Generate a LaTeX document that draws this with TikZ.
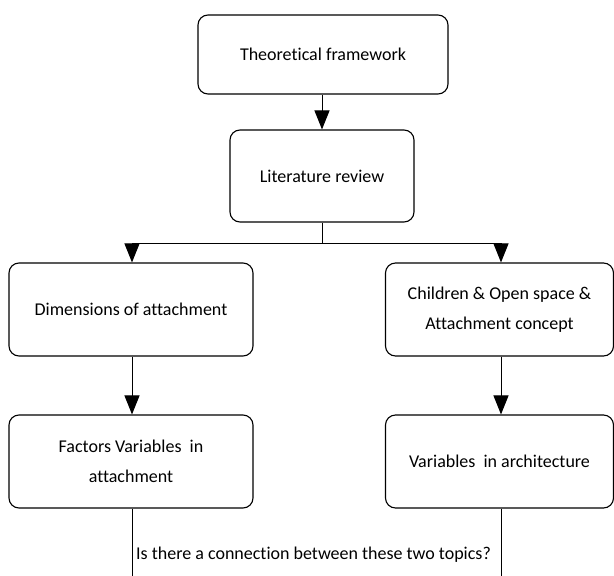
\documentclass[tikz,border=0pt]{standalone}
\usepackage{fontspec}
\setmainfont[Ligatures=CommonOff]{Carlito}
\usetikzlibrary{arrows.meta}
\begin{document}
\begin{tikzpicture}[x=1pt,y=-1pt,
  box/.style={draw, line width=1.1pt, rounded corners=10pt, align=center,
    inner sep=0pt, font=\fontsize{18}{30}\selectfont},
  arr/.style={line width=1pt, -{Triangle[width=15pt,length=19pt]}},
  ln/.style={line width=1pt}]
\useasboundingbox (0,0) rectangle (614,576);
\node[box, minimum width=250pt, minimum height=79pt] (tf) at (323,54.5) {Theoretical framework};
\node[box, minimum width=184pt, minimum height=92pt] (lr) at (322,176) {Literature review};
\node[box, minimum width=244pt, minimum height=93pt] (da) at (131,309.5) {Dimensions of attachment};
\node[box, minimum width=244pt, minimum height=93pt] (fv) at (131,461.5) {Factors Variables\ \ in\\attachment};
\node[box, minimum width=228pt, minimum height=93pt] (co) at (499.5,309.5) {Children \& Open space \&\\Attachment concept};
\node[box, minimum width=228pt, minimum height=93pt] (va) at (499.5,461.5) {Variables\ \ in architecture};
\coordinate (split) at (322,243);
\coordinate (lend) at (132,576);
\coordinate (rend) at (501,576);
\draw[arr] (tf.south -| lr.north) -- (lr.north);
\draw[ln] (lr.south) -- (split);
\draw[arr] (split) -| (da.north -| 132,0);
\draw[arr] (split) -| (co.north -| 501,0);
\draw[arr] (da.south -| 132,0) -- (fv.north -| 132,0);
\draw[arr] (co.south -| 501,0) -- (va.north -| 501,0);
\draw[ln] (fv.south -| 132,0) -- (lend);
\draw[ln] (va.south -| 501,0) -- (rend);
\node[anchor=west, inner sep=0pt, font=\fontsize{18}{22}\selectfont] (q) at (136,555) {Is there a connection between these two topics?};
\end{tikzpicture}
\end{document}
